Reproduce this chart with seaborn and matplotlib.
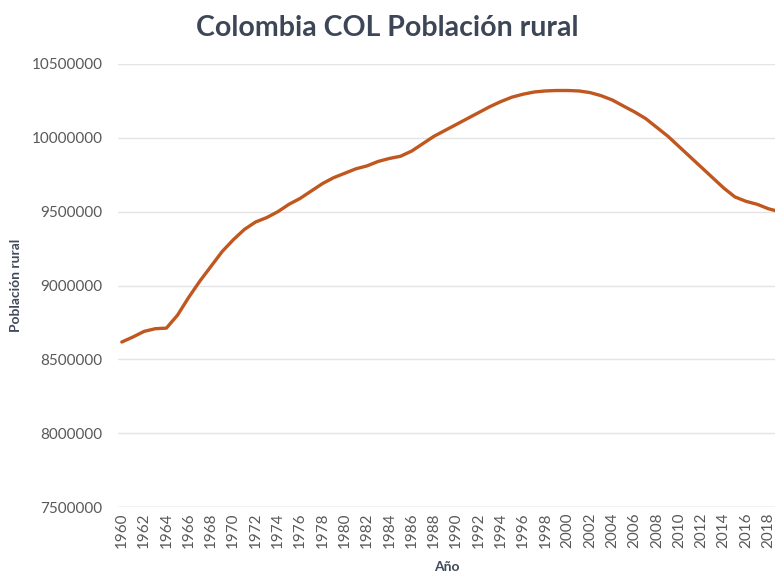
import numpy as np
import pandas as pd
import seaborn as sns
import matplotlib.pyplot as plt

years = list(range(1960, 2020))
poblacion_rural = [
    8618000, 8652000, 8690000, 8708000, 8712000, 8800000, 8920000, 9030000, 9130000, 9230000,
    9310000, 9380000, 9430000, 9460000, 9500000, 9550000, 9590000, 9640000, 9690000, 9730000,
    9760000, 9790000, 9810000, 9840000, 9860000, 9875000, 9910000, 9960000, 10010000, 10050000,
    10090000, 10130000, 10170000, 10210000, 10245000, 10275000, 10295000, 10310000, 10317000, 10320000,
    10320000, 10317000, 10306000, 10285000, 10256000, 10215000, 10175000, 10130000, 10070000, 10010000,
    9940000, 9870000, 9800000, 9730000, 9660000, 9600000, 9570000, 9550000, 9520000, 9500000,
]
yticks = [7500000, 8000000, 8500000, 9000000, 9500000, 10000000, 10500000]
xticks = list(range(1960, 2019, 2))

df = pd.DataFrame({"Año": years, "Población rural": poblacion_rural})

sns.set_theme(style="white")
plt.rcParams['font.family'] = ['Lato', 'DejaVu Sans']

fig = plt.figure(figsize=(7.75, 5.81), dpi=100)
ax = fig.add_axes([0.152, 0.127, 0.848, 0.763])

sns.lineplot(data=df, x="Año", y="Población rural", ax=ax, color="#c0571f", linewidth=2.4)

ax.set_xlim(1959.64, 2018.6)
ax.set_ylim(7500000, 10500000)
ax.set_yticks(yticks)
ax.set_yticklabels([str(v) for v in yticks])
ax.set_xticks(xticks)
ax.set_xticklabels([str(v) for v in xticks], rotation=90)
ax.tick_params(axis="both", length=0, labelsize=11, colors="#595959")
ax.tick_params(axis="y", pad=11)
ax.tick_params(axis="x", pad=4)
ax.yaxis.grid(True, color="#e4e4e4", linewidth=1)
ax.xaxis.grid(False)
for s in ax.spines.values():
    s.set_visible(False)
ax.axhline(7500000, color="#d9d9d9", linewidth=1)

ax.set_xlabel("Año", fontsize=10, fontweight="bold", color="#404a5a", labelpad=9)
ax.set_ylabel("Población rural", fontsize=10, fontweight="bold", color="#404a5a", labelpad=7)
fig.suptitle("Colombia COL Población rural", x=0.5, y=0.975, fontsize=20.5,
             fontweight="bold", color="#3c4656")

fig.savefig("out.png", dpi=100)
